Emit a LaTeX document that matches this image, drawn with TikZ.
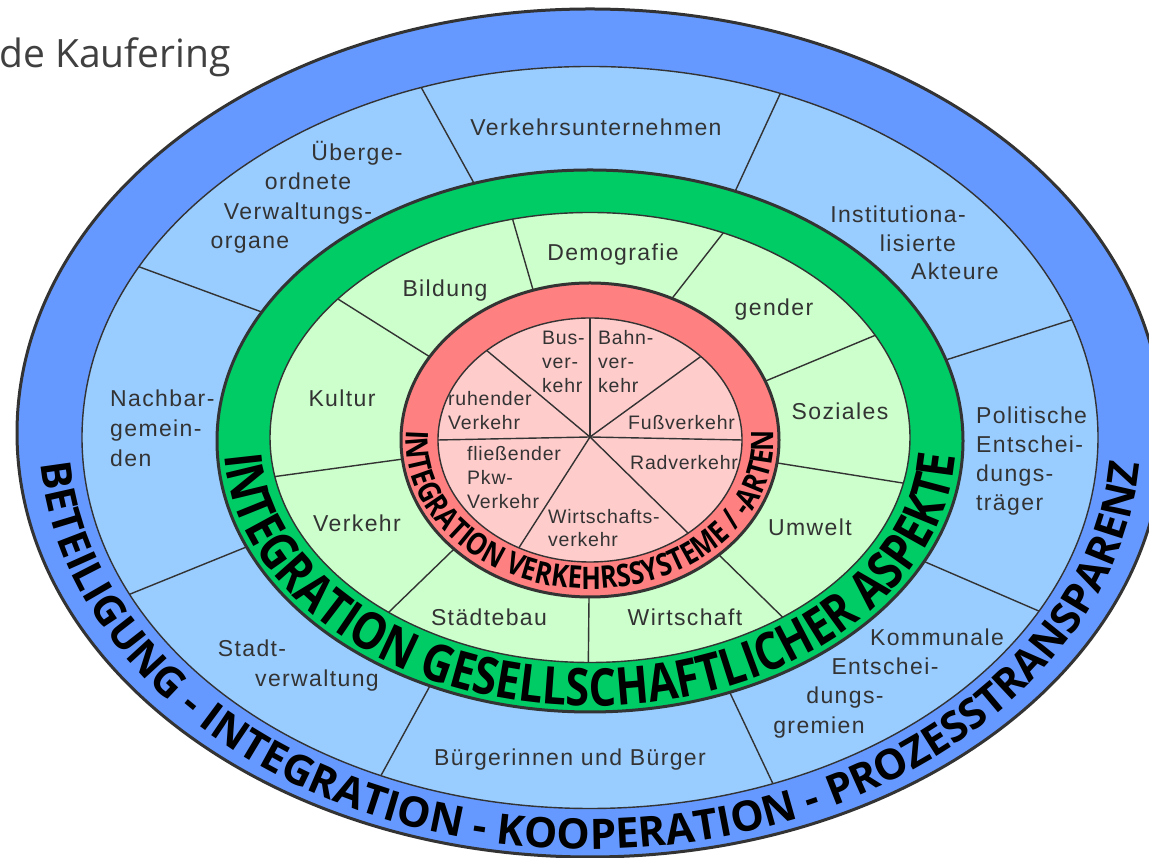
\documentclass[tikz,border=0pt]{standalone}
\usepackage{fontspec}
\usetikzlibrary{decorations.text}
\setmainfont{Liberation Sans}
\newfontfamily\lblf[LetterSpace=6]{Liberation Sans}
\newfontfamily\pief[LetterSpace=4]{Liberation Sans}
\newfontfamily\arcf{Open Sans}
\newfontfamily\arcc[FakeStretch=0.83]{Open Sans}
\newfontfamily\headf{Open Sans}
\definecolor{bandblue}{HTML}{6699FF}
\definecolor{ringblue}{HTML}{99CCFF}
\definecolor{bandgreen}{HTML}{00CC66}
\definecolor{ringgreen}{HTML}{CCFFCC}
\definecolor{bandred}{HTML}{FF8080}
\definecolor{ringpink}{HTML}{FFCCCC}
\definecolor{edgegray}{HTML}{333333}
\definecolor{txtgray}{HTML}{333333}
\definecolor{headgray}{HTML}{404040}
\tikzset{
  lbl/.style={font=\lblf\fontsize{23}{23}\selectfont, text=txtgray, inner sep=0pt},
  pielbl/.style={font=\pief\fontsize{19.5}{19.5}\selectfont, text=txtgray, inner sep=0pt},
  thickedge/.style={draw=edgegray, line width=3pt},
  thinedge/.style={draw=edgegray, line width=1.4pt},
  divider/.style={draw=edgegray, line width=1.4pt}
}
\newcommand\labC[4]{\node[lbl,anchor=base] (#1) at (#2,{849.5-#3}) {#4};}
\newcommand\labL[4]{\node[lbl,anchor=base west] (#1) at (#2,{849.5-#3}) {#4};}
\newcommand\labP[4]{\node[pielbl,anchor=base west] (#1) at (#2,{851-#3}) {#4};}
\begin{document}
\begin{tikzpicture}[x=1pt,y=1pt]
\useasboundingbox (0,0) rectangle (1149,858);
\clip (0,0) rectangle (1149,858);
\fill[white] (0,0) rectangle (1149,858);
% header fragment
\node[anchor=base west, inner sep=0pt, text=headgray, font=\headf\fontsize{39}{39}\selectfont] (hdr) at (-1,790) {de Kaufering};
% outer blue band
\path[fill=bandblue, thickedge] (590,425) ellipse [x radius=573, y radius=424];
\path[fill=ringblue, thinedge] (590,420.5) ellipse [x radius=508, y radius=371];
\foreach \a/\b in {108.1/109.4, 67.1/68, 17.4/18.5, -26.4/-27.9, -68/-68.9, -115.4/-114.3, -157/-155, 151.6/152.6}
  \draw[divider] ({590+373*cos(\a)},{417+271*sin(\a)}) -- ({590+508*cos(\b)},{420.5+371*sin(\b)});
% green band
\path[fill=bandgreen, thickedge] (590,417) ellipse [x radius=373, y radius=271];
\path[fill=ringgreen, thinedge] (590,420.5) ellipse [x radius=320, y radius=225];
\foreach \a/\b in {107.5/104, 64.3/65.4, 22/27, -8.4/-11.7, -47/-53, -90.3/-90.3, -136/-129, -173/-170, 148/142}
  \draw[divider] ({590+189*cos(\a)},{418+157*sin(\a)}) -- ({590+320*cos(\b)},{420.5+225*sin(\b)});
% red band
\path[fill=bandred, thickedge] (590,418) ellipse [x radius=189, y radius=157];
\path[fill=ringpink, thinedge] (590,418) ellipse [x radius=152, y radius=122];
\coordinate (pc) at (590,421);
\foreach \a in {90,132.8,43.2,180,0,-117.9,-49.8}
  \draw[divider] (pc) -- ({590+152*cos(\a)},{418+122*sin(\a)});
% curved texts
\path[decorate, decoration={text along path, text align=center,
  text={|\arcf\bfseries\fontsize{42}{42}\selectfont|BETEILIGUNG - INTEGRATION - KOOPERATION - PROZESSTRANSPARENZ}}]
  (39,425) arc[start angle=180, end angle=360, x radius=551, y radius=416];
\path[decorate, decoration={text along path, text align=center,
  text={|\arcc\bfseries\fontsize{52}{52}\selectfont|INTEGRATION GESELLSCHAFTLICHER ASPEKTE}}]
  (224,417) arc[start angle=180, end angle=360, x radius=366, y radius=265];
\path[decorate, decoration={text along path, text align=center,
  text={|\arcc\bfseries\fontsize{31}{31}\selectfont|INTEGRATION VERKEHRSSYSTEME / -ARTEN}}]
  (406,418) arc[start angle=180, end angle=360, x radius=184, y radius=149];
% outer ring labels
\labC{vu}{596}{127}{Verkehrsunternehmen}
\labC{ue1}{357}{152}{Überge-}
\labC{ue2}{308}{181}{ordnete}
\labC{ue3}{298}{211}{Verwaltungs-}
\labC{ue4}{250}{240}{organe}
\labC{ia1}{898}{214}{Institutiona-}
\labC{ia2}{918}{243}{lisierte}
\labC{ia3}{955}{271}{Akteure}
\labL{ng1}{110}{398}{Nachbar-}
\labL{ng2}{110}{428}{gemein-}
\labL{ng3}{110}{458}{den}
\labL{pe1}{976}{415}{Politische}
\labL{pe2}{976}{444}{Entschei-}
\labL{pe3}{976}{473}{dungs-}
\labL{pe4}{976}{502}{träger}
\labC{sv1}{252}{648}{Stadt-}
\labC{sv2}{317}{678}{verwaltung}
\labC{bb}{570}{757}{Bürgerinnen und Bürger}
\labC{ke1}{937}{637}{Kommunale}
\labC{ke2}{885}{666}{Entschei-}
\labC{ke3}{845}{695}{dungs-}
\labC{ke4}{819}{725}{gremien}
% green ring labels
\labC{g1}{613}{252}{Demografie}
\labC{g2}{445}{288}{Bildung}
\labC{g3}{774}{307}{gender}
\labC{g4}{342}{398}{Kultur}
\labC{g5}{840}{411}{Soziales}
\labC{g6}{357}{523}{Verkehr}
\labC{g7}{810}{527}{Umwelt}
\labC{g8}{489}{617}{Städtebau}
\labC{g9}{685}{617}{Wirtschaft}
% pie labels
\labP{p1a}{542}{338}{Bus-}
\labP{p1b}{542}{362}{ver-}
\labP{p1c}{542}{386}{kehr}
\labP{p2a}{598}{338}{Bahn-}
\labP{p2b}{598}{362}{ver-}
\labP{p2c}{598}{386}{kehr}
\labP{p3a}{448}{399}{ruhender}
\labP{p3b}{448}{423}{Verkehr}
\labP{p4}{628}{423}{Fußverkehr}
\labP{p5a}{467}{454}{fließender}
\labP{p5b}{467}{478}{Pkw-}
\labP{p5c}{467}{502}{Verkehr}
\labP{p6}{630}{463}{Radverkehr}
\labP{p7a}{548}{517}{Wirtschafts-}
\labP{p7b}{548}{540}{verkehr}
\end{tikzpicture}
\end{document}
